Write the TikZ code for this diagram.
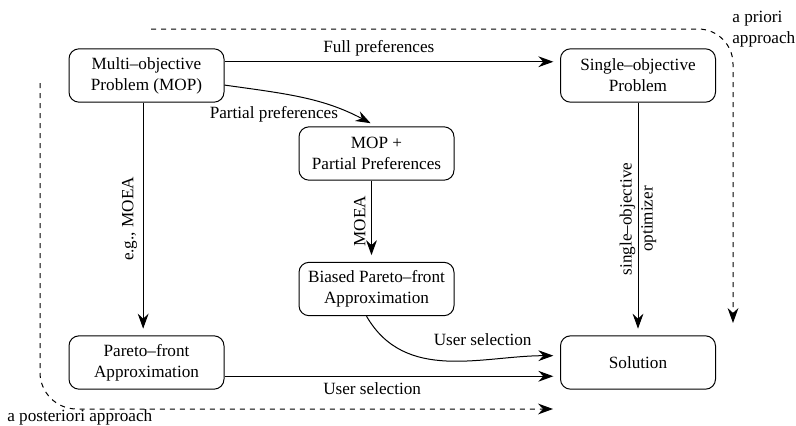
\documentclass[tikz,border=0pt]{standalone}
\usepackage{fontspec}
\setmainfont{Liberation Serif}
\usetikzlibrary{arrows.meta}

\begin{document}
\begin{tikzpicture}[
      x=0.6pt, y=-0.6pt, %one unit is one pixel of the sketch
      font=\fontsize{10.3}{12.6}\selectfont,
      box/.style={draw, semithick, rounded corners=6pt, align=center, minimum width=93pt, minimum height=32pt, inner sep=2pt},
      trans/.style={semithick, -{Stealth[length=9pt,width=6.5pt,inset=3pt]}, shorten >=4pt},
      approach/.style={semithick, dashed, -{Stealth[length=9pt,width=6.5pt,inset=3pt]}},
      vlabel/.style={midway, rotate=90, anchor=south}
    ]
    \useasboundingbox (0,0) rectangle (796,425);
    % Draw the problems and results
    \node[box] (mop) at (146.5,75.5) {Multi--objective\\Problem (MOP)};
    \node[box] (sop) at (638,75.5) {Single--objective\\Problem};
    \node[box] (mpp) at (376.5,153.5) {MOP +\\Partial Preferences};
    \node[box] (bpf) at (376.5,289) {Biased Pareto--front\\Approximation};
    \node[box] (pfa) at (146.5,362.5) {Pareto--front\\Approximation};
    \node[box] (sol) at (638,362.5) {Solution};
    % Draw the transitions
    \draw[trans] (mop.10) -- node[pos=0.46, above]{Full preferences} (sop.170);
    \draw[trans] (mop.-7) to[out=-8,in=152] node[pos=0.3, below=5pt]{Partial preferences} (mpp.north);
    \draw[trans] ([xshift=-2pt]mop.south) -- node[vlabel]{e.g., MOEA} ([xshift=-2pt]pfa.north);
    \draw[trans] ([xshift=-3pt]mpp.south) -- node[vlabel]{MOEA} ([xshift=-3pt]bpf.north);
    \draw[trans] (sop) -- node[midway, rotate=90, align=center]{single--objective\\optimizer} (sol);
    \draw[trans] ([xshift=-6pt]bpf.south) to[out=-60,in=180] node[pos=0.66, above=5pt]{User selection} (sol.175);
    \draw[trans] (pfa.-10) -- node[pos=0.44, below]{User selection} (sol.190);
    % Draw the two approaches
    \coordinate (prioriS) at (151,29);
    \coordinate (prioriE) at (733,323);
    \draw[approach, rounded corners=21pt] (prioriS) -| (prioriE);
    \node[anchor=north west, align=left, inner sep=0pt] (priori) at (732,11) {a priori\\approach};
    \coordinate (postS) at (40,83);
    \coordinate (postE) at (553,409);
    \draw[approach, rounded corners=22pt] (postS) |- (postE);
    \node[anchor=base west, inner sep=0pt] (post) at (7,421) {a posteriori approach};
\end{tikzpicture}
\end{document}
